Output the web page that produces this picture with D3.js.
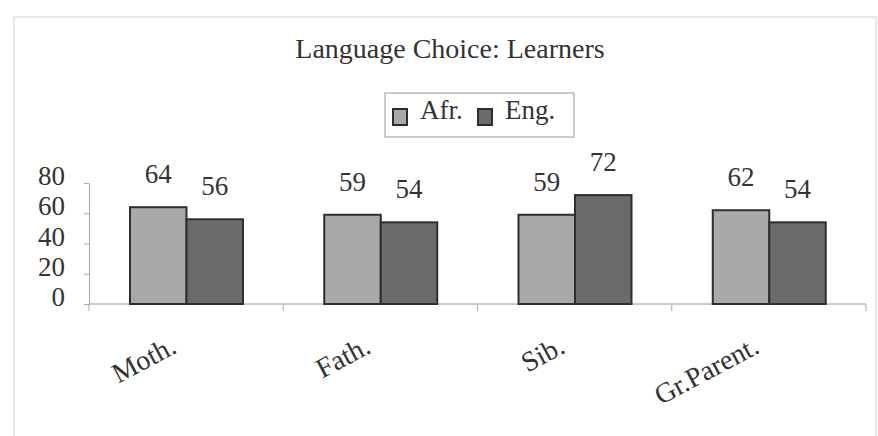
<!DOCTYPE html>
<html>
<head>
<meta charset="utf-8">
<script src="https://cdn.jsdelivr.net/npm/d3@7"></script>
<style>
  body { margin: 0; background: #fff; }
</style>
</head>
<body>
<svg width="878" height="436"></svg>
<script>
// chart data
var categories = ["Moth.", "Fath.", "Sib.", "Gr.Parent."];
var seriesNames = ["Afr.", "Eng."];
var afrValues = [64, 59, 59, 62];
var engValues = [56, 54, 72, 54];
var yTicks = [0, 20, 40, 60, 80];

var svg = d3.select("svg"),
    width = +svg.attr("width"),
    height = +svg.attr("height");

var serif = "'Liberation Serif'";
var colors = { "Afr.": "#a9a9a9", "Eng.": "#6b6b6b" };

// rows for the grouped bars
var rows = categories.map(function(c, i) {
  return { cat: c, values: [
    { name: "Afr.", value: afrValues[i] },
    { name: "Eng.", value: engValues[i] }
  ]};
});

// faint outer frame, as in the scan
svg.append("rect")
    .attr("x", 14).attr("y", 17)
    .attr("width", 862).attr("height", 430)
    .attr("fill", "none")
    .attr("stroke", "#e2e2e2")
    .attr("stroke-width", 1.5);

var x0 = d3.scaleBand()
    .domain(categories)
    .range([89, 866]);

var x1 = d3.scaleBand()
    .domain(seriesNames)
    .range([41, 154]);

var y = d3.scaleLinear()
    .domain([0, 80])
    .range([304, 183]);

// y axis
var yAxis = svg.append("g")
    .attr("transform", "translate(89,0)")
    .call(d3.axisLeft(y).tickValues(yTicks).tickSize(5).tickPadding(19));
yAxis.attr("font-family", null).attr("font-size", null);
yAxis.select(".domain").attr("stroke", "#aaa");
yAxis.selectAll(".tick line").attr("stroke", "#aaa");
yAxis.selectAll("text")
    .attr("fill", "#333")
    .attr("dy", "0.06em")
    .style("font-family", serif)
    .style("font-size", "27px");

// x axis line with tick marks between categories
svg.append("line")
    .attr("x1", 89).attr("x2", 866)
    .attr("y1", y(0)).attr("y2", y(0))
    .attr("stroke", "#999");
svg.append("g").selectAll("line")
    .data(categories.concat(["end"]))
    .enter().append("line")
      .attr("x1", function(d, i) { return 89 + i * x0.bandwidth(); })
      .attr("x2", function(d, i) { return 89 + i * x0.bandwidth(); })
      .attr("y1", y(0)).attr("y2", y(0) + 7)
      .attr("stroke", "#aaa");

// bars
var groups = svg.append("g").selectAll("g")
    .data(rows)
    .enter().append("g")
      .attr("transform", function(d) { return "translate(" + x0(d.cat) + ",0)"; });

groups.selectAll("rect")
    .data(function(d) { return d.values; })
    .enter().append("rect")
      .attr("x", function(d) { return x1(d.name); })
      .attr("y", function(d) { return y(d.value); })
      .attr("width", x1.bandwidth())
      .attr("height", function(d) { return y(0) - y(d.value); })
      .attr("fill", function(d) { return colors[d.name]; })
      .attr("stroke", "#2e2e2e")
      .attr("stroke-width", 2);

// value labels
groups.selectAll("text")
    .data(function(d) { return d.values; })
    .enter().append("text")
      .attr("x", function(d) { return x1(d.name) + x1.bandwidth() / 2; })
      .attr("y", function(d) { return y(d.value) - 24; })
      .attr("text-anchor", "middle")
      .attr("fill", "#333")
      .style("font-family", serif)
      .style("font-size", "27px")
      .text(function(d) { return d.value; });

// category labels, rotated
svg.append("g").selectAll("text")
    .data(categories)
    .enter().append("text")
      .attr("transform", function(d) {
        return "translate(" + (x0(d) + x0.bandwidth() / 2 - 8) + ",352) rotate(-28)";
      })
      .attr("text-anchor", "end")
      .attr("fill", "#333")
      .style("font-family", serif)
      .style("font-size", "28px")
      .text(function(d) { return d; });

// title
svg.append("text")
    .attr("x", 450).attr("y", 58)
    .attr("text-anchor", "middle")
    .attr("fill", "#333")
    .style("font-family", serif)
    .style("font-size", "28px")
    .text("Language Choice: Learners");

// legend
var legend = svg.append("g");
legend.append("rect")
    .attr("x", 385).attr("y", 93)
    .attr("width", 189).attr("height", 44)
    .attr("fill", "none")
    .attr("stroke", "#bbb")
    .attr("stroke-width", 1.5);

var legendX = [393, 478];
var legendItems = legend.selectAll("g")
    .data(seriesNames)
    .enter().append("g")
      .attr("transform", function(d, i) { return "translate(" + legendX[i] + ",0)"; });
legendItems.append("rect")
    .attr("x", 0).attr("y", 109)
    .attr("width", 14).attr("height", 16)
    .attr("fill", function(d) { return colors[d]; })
    .attr("stroke", "#2e2e2e")
    .attr("stroke-width", 2);
legendItems.append("text")
    .attr("x", 27).attr("y", 119)
    .attr("fill", "#333")
    .style("font-family", serif)
    .style("font-size", "27px")
    .text(function(d) { return d; });
</script>
</body>
</html>
